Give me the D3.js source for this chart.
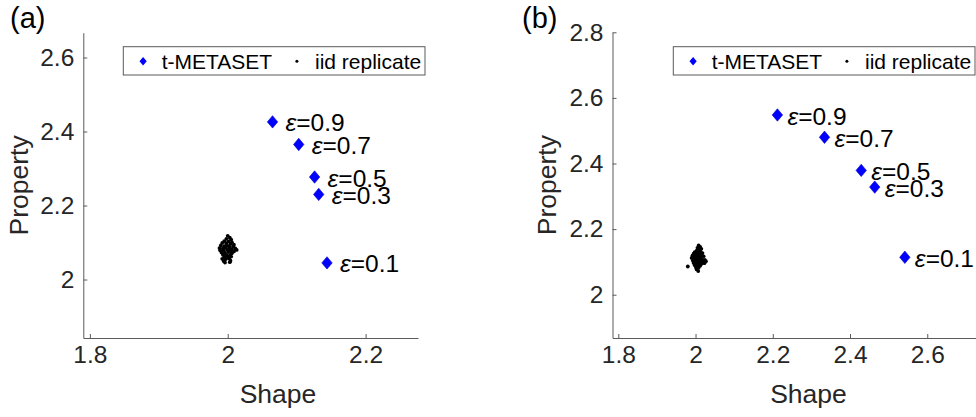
<!DOCTYPE html>
<html lang="en">

<head>
    <meta charset="UTF-8">
    <script src="https://d3js.org/d3.v7.min.js"></script>
    <title>t-METASET vs iid replicate</title>
    <style>
        body {
            margin: 0;
            background: #fff;
            font-family: "Liberation Sans", Arial, sans-serif;
        }

        .axis path,
        .axis line {
            fill: none;
            stroke: #5a5a5a;
            stroke-width: 1;
        }

        .axis text {
            fill: #262626;
            font-size: 24.5px;
            font-family: "Liberation Sans", Arial, sans-serif;
        }
    </style>
</head>

<body>
    <svg id="chart" width="976" height="417"></svg>
    <script>
        // epsilon labels shared by both panels
        const epsLabels = ['0.9', '0.7', '0.5', '0.3', '0.1'];

        // panel (a) t-METASET points
        const shapeA = [2.065, 2.103, 2.126, 2.132, 2.144];
        const propA = [2.426, 2.365, 2.277, 2.230, 2.045];

        // panel (b) t-METASET points
        const shapeB = [2.212, 2.334, 2.429, 2.464, 2.542];
        const propB = [2.548, 2.480, 2.379, 2.328, 2.114];

        // panel (a) iid replicate cloud [shape, property]
        const iidA = [
            [2.000, 2.118], [2.003, 2.113], [1.998, 2.110], [2.005, 2.108],
            [1.995, 2.104], [2.001, 2.103], [2.006, 2.101], [1.992, 2.099], [1.998, 2.098], [2.004, 2.096], [2.009, 2.094],
            [1.990, 2.092], [1.995, 2.090], [2.000, 2.091], [2.003, 2.088], [2.008, 2.089], [1.988, 2.085], [1.993, 2.084],
            [1.997, 2.086], [2.002, 2.083], [2.006, 2.082], [2.011, 2.084], [2.013, 2.080], [1.989, 2.079], [1.994, 2.078],
            [1.999, 2.080], [2.004, 2.077], [2.009, 2.076], [1.991, 2.073], [1.996, 2.072], [2.001, 2.074], [2.006, 2.071],
            [1.993, 2.067], [1.998, 2.066], [2.003, 2.065], [1.995, 2.061], [2.000, 2.060], [2.005, 2.062], [1.992, 2.056],
            [1.997, 2.055], [2.002, 2.057], [1.994, 2.050], [2.004, 2.051], [1.996, 2.046], [2.003, 2.047]
        ];

        // panel (b) iid replicate cloud [shape, property]
        const iidB = [
            [2.008, 2.150], [2.012, 2.146], [2.005, 2.143], [2.015, 2.140], [2.009, 2.137], [2.003, 2.134],
            [1.998, 2.130], [2.006, 2.129], [2.013, 2.131], [2.018, 2.127], [1.995, 2.125], [2.002, 2.124], [2.010, 2.123],
            [2.016, 2.121], [1.992, 2.119], [1.999, 2.118], [2.006, 2.117], [2.013, 2.116], [2.021, 2.117],
            [1.990, 2.112], [1.996, 2.111], [2.003, 2.110], [2.010, 2.109], [2.017, 2.108], [2.024, 2.106], [1.993, 2.104],
            [2.000, 2.103], [2.007, 2.102], [2.014, 2.101], [2.021, 2.100], [2.027, 2.102], [1.995, 2.097], [2.002, 2.096],
            [2.009, 2.095], [2.016, 2.094], [2.023, 2.096],
            [1.998, 2.090], [2.005, 2.089], [2.012, 2.088], [2.001, 2.083], [2.008, 2.082], [2.003, 2.077], [2.007, 2.072],
            [1.980, 2.086]
        ];

        // tick values (2.8 on the shape axis of (b) falls past the right edge)
        const xTicksA = [1.8, 2, 2.2];
        const yTicksA = [2, 2.2, 2.4, 2.6];
        const xTicksB = [1.8, 2, 2.2, 2.4, 2.6];
        const yTicksB = [2, 2.2, 2.4, 2.6, 2.8];

        const legendNames = ['t-METASET', 'iid replicate'];

        const svg = d3.select('#chart');
        const diamond = (hw, hh) => `M0,${-hh}L${hw},0L0,${hh}L${-hw},0Z`;

        const panels = [
            {
                tag: '(a)', tagX: 10,
                x: d3.scaleLinear().domain([1.7905, 2.276]).range([83.3, 418]),
                y: d3.scaleLinear().domain([1.842, 2.667]).range([338, 32.7]),
                xTicks: xTicksA, yTicks: yTicksA,
                shape: shapeA, prop: propA, iid: iidA,
                labelDx: 13, yLabelX: 28, xLabelX: 278, legendX: 123.3
            },
            {
                tag: '(b)', tagX: 522,
                x: d3.scaleLinear().domain([1.785, 2.8]).range([612.5, 1004.5]),
                y: d3.scaleLinear().domain([1.868, 2.8]).range([338, 32.3]),
                xTicks: xTicksB, yTicks: yTicksB,
                shape: shapeB, prop: propB, iid: iidB,
                labelDx: 10, yLabelX: 556, xLabelX: 808.5, legendX: 673.3
            }
        ];

        panels.forEach(p => {
            const g = svg.append('g');

            // axes, ticks point inward like MATLAB
            g.append('g').attr('class', 'axis')
                .attr('transform', `translate(0,${p.y.range()[0]})`)
                .call(d3.axisBottom(p.x).tickValues(p.xTicks).tickFormat(d3.format('~g'))
                    .tickSizeInner(-4).tickSizeOuter(0).tickPadding(8));

            g.append('g').attr('class', 'axis')
                .attr('transform', `translate(${p.x.range()[0]},0)`)
                .call(d3.axisLeft(p.y).tickValues(p.yTicks).tickFormat(d3.format('~g'))
                    .tickSizeInner(-4).tickSizeOuter(0).tickPadding(9));

            g.selectAll('.axis text').attr('fill', '#262626');

            // axis titles
            g.append('text')
                .attr('x', p.xLabelX).attr('y', 403)
                .attr('text-anchor', 'middle')
                .style('font-size', '26.5px').style('fill', '#262626')
                .text('Shape');

            g.append('text')
                .attr('transform', `translate(${p.yLabelX},${(p.y.range()[0] + p.y.range()[1]) / 2}) rotate(-90)`)
                .attr('text-anchor', 'middle')
                .style('font-size', '26.5px').style('fill', '#262626')
                .text('Property');

            // panel tag
            svg.append('text')
                .attr('x', p.tagX).attr('y', 28)
                .style('font-size', '29px').style('fill', '#000')
                .text(p.tag);

            // iid replicate cloud
            g.selectAll('.iid')
                .data(p.iid).enter()
                .append('circle')
                .attr('cx', d => p.x(d[0]))
                .attr('cy', d => p.y(d[1]))
                .attr('r', 1.9)
                .attr('fill', '#000');

            // t-METASET diamonds
            g.selectAll('.meta')
                .data(p.shape).enter()
                .append('path')
                .attr('d', diamond(5.2, 6.2))
                .attr('transform', (d, i) => `translate(${p.x(d)},${p.y(p.prop[i])})`)
                .attr('fill', '#0000ff')
                .attr('stroke', '#0000c8')
                .attr('stroke-width', 0.6);

            // epsilon labels
            const lbl = g.selectAll('.eps')
                .data(p.shape).enter()
                .append('text')
                .attr('x', d => p.x(d) + p.labelDx)
                .attr('y', (d, i) => p.y(p.prop[i]) + 9.6)
                .style('font-size', '24.5px').style('fill', '#000');
            lbl.append('tspan').style('font-style', 'italic').text('\u03b5');
            lbl.append('tspan').text((d, i) => '=' + epsLabels[i]);

            // legend
            const lg = g.append('g').attr('transform', `translate(${p.legendX},46.7)`);
            lg.append('rect')
                .attr('width', 301.7).attr('height', 28.3)
                .attr('fill', '#fff').attr('stroke', '#5a5a5a').attr('stroke-width', 1);
            lg.append('path')
                .attr('d', diamond(3.6, 4.2))
                .attr('transform', 'translate(19.8,14.6)')
                .attr('fill', '#0000ff');
            lg.append('circle')
                .attr('cx', 173.6).attr('cy', 14.6).attr('r', 1.5)
                .attr('fill', '#000');
            lg.selectAll('.ltext')
                .data(legendNames).enter()
                .append('text')
                .attr('x', (d, i) => i === 0 ? 38.4 : 191.7)
                .attr('y', 22)
                .style('font-size', '21px').style('fill', '#000')
                .text(d => d);
        });
    </script>
</body>

</html>
